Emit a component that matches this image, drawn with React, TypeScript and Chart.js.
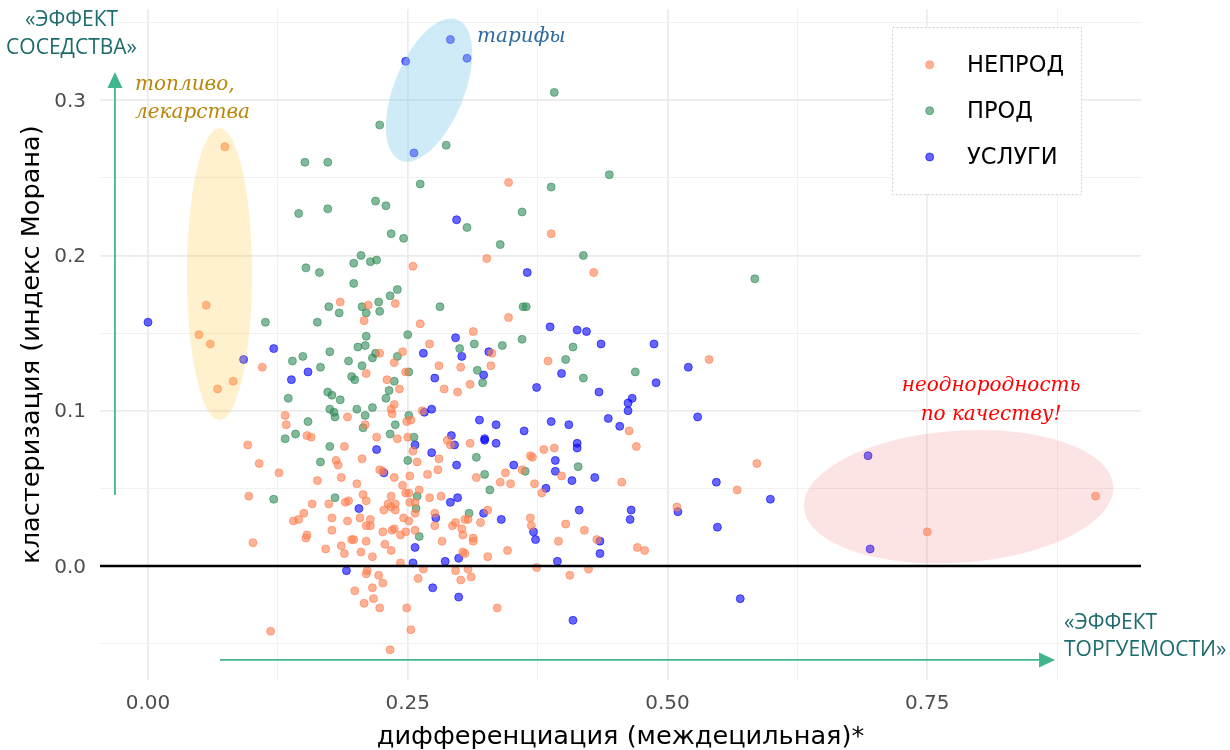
import React, { useEffect, useRef } from "react";
import { Chart, registerables } from "chart.js";

Chart.register(...registerables);

// ---------- DATA ----------
const seriesNames = ["НЕПРОД", "ПРОД", "УСЛУГИ"];

// [дифференциация, кластеризация]
const nonprodPoints: [number, number][] = [
  [0.074, 0.270], [0.056, 0.168], [0.049, 0.149], [0.060, 0.143], [0.082, 0.119], [0.067, 0.114],
  [0.185, 0.170], [0.212, 0.168], [0.238, 0.169], [0.208, 0.158],
  [0.110, 0.128], [0.223, 0.137], [0.245, 0.138], [0.237, 0.131], [0.210, 0.124], [0.230, 0.120],
  [0.242, 0.114], [0.248, 0.125], [0.237, 0.104], [0.234, 0.101], [0.235, 0.098], [0.192, 0.096],
  [0.132, 0.097], [0.133, 0.091], [0.153, 0.084], [0.157, 0.083], [0.209, 0.091], [0.249, 0.093],
  [0.253, 0.094], [0.220, 0.083], [0.240, 0.082], [0.250, 0.083], [0.096, 0.078], [0.189, 0.077],
  [0.107, 0.066], [0.181, 0.068], [0.183, 0.065], [0.206, 0.069], [0.126, 0.060], [0.223, 0.062],
  [0.226, 0.061], [0.237, 0.057], [0.186, 0.057], [0.163, 0.055],
  [0.201, 0.053], [0.245, 0.052], [0.097, 0.045], [0.158, 0.040], [0.174, 0.040], [0.190, 0.041],
  [0.193, 0.042], [0.207, 0.046], [0.210, 0.042], [0.234, 0.045], [0.248, 0.047], [0.251, 0.047],
  [0.231, 0.040], [0.234, 0.038], [0.238, 0.040], [0.227, 0.036], [0.238, 0.036], [0.150, 0.034],
  [0.140, 0.029], [0.145, 0.030], [0.177, 0.031], [0.192, 0.029], [0.204, 0.031], [0.214, 0.030],
  [0.210, 0.026], [0.214, 0.026], [0.246, 0.031], [0.251, 0.029], [0.177, 0.023], [0.153, 0.020],
  [0.152, 0.018], [0.226, 0.022], [0.235, 0.023], [0.237, 0.024], [0.243, 0.020], [0.248, 0.022],
  [0.101, 0.015], [0.196, 0.017], [0.198, 0.017], [0.210, 0.016], [0.228, 0.014], [0.186, 0.013],
  [0.171, 0.011], [0.234, 0.010], [0.189, 0.008], [0.205, 0.009], [0.216, 0.006], [0.243, 0.002],
  [0.211, -0.003], [0.210, -0.005], [0.222, -0.006], [0.226, -0.011], [0.199, -0.016], [0.216, -0.014],
  [0.217, -0.021], [0.208, -0.024], [0.223, -0.027], [0.249, -0.027], [0.118, -0.042], [0.233, -0.054],
  [0.255, 0.193], [0.326, 0.198], [0.429, 0.189], [0.347, 0.160], [0.262, 0.156], [0.313, 0.151],
  [0.271, 0.143], [0.331, 0.137], [0.385, 0.132], [0.280, 0.129], [0.301, 0.128], [0.330, 0.129],
  [0.285, 0.114], [0.298, 0.112], [0.310, 0.117], [0.264, 0.100], [0.463, 0.087],
  [0.347, 0.247], [0.388, 0.214],
  [0.288, 0.081], [0.291, 0.078], [0.310, 0.079], [0.381, 0.075], [0.391, 0.076], [0.470, 0.077],
  [0.255, 0.074], [0.280, 0.069], [0.259, 0.067], [0.368, 0.071], [0.370, 0.070], [0.252, 0.058],
  [0.269, 0.059], [0.279, 0.062], [0.316, 0.057], [0.344, 0.060], [0.360, 0.062], [0.398, 0.058],
  [0.456, 0.054], [0.339, 0.054], [0.349, 0.053], [0.372, 0.053], [0.379, 0.047], [0.261, 0.049],
  [0.271, 0.044], [0.282, 0.045], [0.252, 0.041], [0.257, 0.041], [0.257, 0.034], [0.276, 0.034],
  [0.327, 0.036], [0.305, 0.030], [0.308, 0.030], [0.296, 0.028], [0.293, 0.026], [0.320, 0.028],
  [0.368, 0.031], [0.369, 0.026], [0.509, 0.038], [0.276, 0.026], [0.302, 0.024], [0.303, 0.020],
  [0.257, 0.023], [0.402, 0.027], [0.420, 0.023], [0.395, 0.016], [0.432, 0.017], [0.313, 0.018],
  [0.313, 0.016], [0.283, 0.016], [0.346, 0.010], [0.471, 0.012], [0.478, 0.010], [0.303, 0.009],
  [0.305, 0.008], [0.327, 0.006], [0.265, -0.002], [0.296, -0.003], [0.308, -0.002], [0.374, -0.001],
  [0.424, -0.002], [0.260, -0.008], [0.301, -0.009], [0.311, -0.007], [0.406, -0.006], [0.336, -0.027],
  [0.253, -0.041],
  [0.540, 0.133], [0.586, 0.066], [0.567, 0.049], [0.750, 0.022], [0.912, 0.045],
];

const prodPoints: [number, number][] = [
  [0.151, 0.260], [0.173, 0.260], [0.223, 0.284], [0.145, 0.227], [0.173, 0.230], [0.219, 0.235],
  [0.229, 0.232], [0.234, 0.214], [0.205, 0.200], [0.198, 0.195], [0.214, 0.196], [0.220, 0.197],
  [0.152, 0.192], [0.165, 0.189], [0.198, 0.182], [0.233, 0.174], [0.240, 0.178], [0.174, 0.167],
  [0.184, 0.163], [0.206, 0.167], [0.222, 0.170], [0.210, 0.163], [0.223, 0.164], [0.113, 0.157],
  [0.163, 0.157], [0.210, 0.148], [0.202, 0.141], [0.209, 0.142], [0.175, 0.138],
  [0.139, 0.132], [0.149, 0.135], [0.166, 0.128], [0.135, 0.108], [0.193, 0.132], [0.206, 0.129],
  [0.216, 0.134], [0.219, 0.137], [0.240, 0.135], [0.250, 0.149], [0.196, 0.122], [0.199, 0.120],
  [0.237, 0.119], [0.251, 0.125], [0.173, 0.112], [0.177, 0.110], [0.185, 0.107], [0.232, 0.113],
  [0.229, 0.108], [0.175, 0.101], [0.179, 0.099], [0.180, 0.096], [0.201, 0.101], [0.209, 0.097],
  [0.216, 0.102], [0.154, 0.093], [0.142, 0.085], [0.132, 0.082], [0.207, 0.089], [0.238, 0.091],
  [0.251, 0.097], [0.233, 0.085], [0.175, 0.077], [0.166, 0.067], [0.250, 0.068],
  [0.121, 0.043], [0.180, 0.044],
  [0.391, 0.305], [0.287, 0.271], [0.262, 0.246], [0.388, 0.244], [0.444, 0.252], [0.360, 0.228],
  [0.307, 0.218], [0.246, 0.211],
  [0.339, 0.207], [0.419, 0.200], [0.281, 0.167], [0.361, 0.167], [0.364, 0.167], [0.300, 0.140],
  [0.314, 0.143], [0.341, 0.142], [0.360, 0.146], [0.409, 0.141], [0.402, 0.133], [0.317, 0.126],
  [0.322, 0.118], [0.419, 0.121], [0.469, 0.125], [0.256, 0.083],
  [0.316, 0.070], [0.414, 0.064], [0.324, 0.059], [0.363, 0.061], [0.329, 0.049], [0.259, 0.045],
  [0.258, 0.037], [0.309, 0.034], [0.261, 0.019],
  [0.584, 0.185],
];

const servicesPoints: [number, number][] = [
  [0.000, 0.157], [0.121, 0.140], [0.092, 0.133], [0.138, 0.120], [0.154, 0.125], [0.220, 0.075],
  [0.227, 0.060], [0.203, 0.037], [0.191, -0.003],
  [0.291, 0.339], [0.248, 0.325], [0.307, 0.327], [0.256, 0.266], [0.297, 0.223],
  [0.365, 0.189], [0.296, 0.147], [0.387, 0.154], [0.413, 0.152], [0.422, 0.151], [0.436, 0.143],
  [0.487, 0.143], [0.265, 0.137], [0.302, 0.135], [0.328, 0.138], [0.323, 0.123], [0.276, 0.121],
  [0.374, 0.115], [0.398, 0.124], [0.434, 0.112], [0.489, 0.118], [0.520, 0.128], [0.462, 0.105],
  [0.466, 0.108], [0.462, 0.100], [0.529, 0.096], [0.266, 0.099], [0.273, 0.101], [0.319, 0.094],
  [0.335, 0.091], [0.324, 0.082], [0.292, 0.084], [0.362, 0.087], [0.388, 0.093], [0.405, 0.091],
  [0.443, 0.095], [0.454, 0.090],
  [0.257, 0.078], [0.295, 0.078], [0.324, 0.081], [0.335, 0.079], [0.413, 0.079], [0.413, 0.076],
  [0.273, 0.073], [0.297, 0.065], [0.392, 0.068], [0.352, 0.065], [0.392, 0.061], [0.430, 0.057],
  [0.408, 0.055], [0.383, 0.050], [0.291, 0.041], [0.298, 0.044], [0.277, 0.031], [0.323, 0.034],
  [0.340, 0.030], [0.415, 0.036], [0.465, 0.036], [0.464, 0.030], [0.510, 0.035], [0.371, 0.022],
  [0.373, 0.017], [0.435, 0.016], [0.257, 0.012], [0.435, 0.008], [0.299, 0.005], [0.286, 0.003],
  [0.255, 0.002], [0.394, 0.003], [0.274, -0.014], [0.299, -0.020], [0.409, -0.035],
  [0.547, 0.054], [0.599, 0.043], [0.548, 0.025], [0.693, 0.071], [0.695, 0.011], [0.570, -0.021],
];

const xMajorTicks = [0, 0.25, 0.5, 0.75];
const xTickLabels = ["0.00", "0.25", "0.50", "0.75"];
const xMinorTicks = [0.125, 0.375, 0.625, 0.875];
const yMajorTicks = [0, 0.1, 0.2, 0.3];
const yTickLabels = ["0.0", "0.1", "0.2", "0.3"];
const yMinorTicks = [-0.05, 0.05, 0.15, 0.25, 0.35];

// ---------- STYLE / LAYOUT ----------
const X_MIN = -0.0462;
const X_MAX = 0.9557;
const Y_MIN = -0.0734;
const Y_MAX = 0.3587;

const SERIES_RGB = ["255,127,80", "46,139,87", "0,0,255"];
const POINT_ALPHA = 0.6;
const SANS = '"DejaVu Sans", "Liberation Sans", Arial, sans-serif';
const SERIF_IT = '"DejaVu Serif", "Liberation Serif", serif';
const ARROW_COLOR = "#41B68E";
const NOTE_TEAL = "#1D6B6B";

const ellipses = [
  { cx: 0.0688, cy: 0.188, rx: 0.0313, ry: 0.094, rot: 0, color: "rgba(255,200,60,0.25)" },
  { cx: 0.2705, cy: 0.3065, rx: 0.0337, ry: 0.0489, rot: 22, color: "rgba(135,206,235,0.4)" },
  { cx: 0.7801, cy: 0.0446, rx: 0.1492, ry: 0.0425, rot: -4, color: "rgba(245,120,120,0.2)" },
];

const isMajor = (v: number, list: number[]) => list.some((m) => Math.abs(m - v) < 1e-9);

// draws a string glyph-run by glyph-run, centred at x
function drawCentered(ctx: CanvasRenderingContext2D, text: string, x: number, y: number) {
  const total = ctx.measureText(text).width;
  let cur = x - total / 2;
  const prevAlign = ctx.textAlign;
  ctx.textAlign = "left";
  for (const ch of text) {
    ctx.fillText(ch, cur, y);
    cur += ctx.measureText(ch).width;
  }
  ctx.textAlign = prevAlign;
}

const annotationPlugin = {
  id: "annotations",
  afterDraw(chart: any) {
    const { ctx, chartArea } = chart;
    const xs = chart.scales.x;
    const ys = chart.scales.y;
    const px = (v: number) => xs.getPixelForValue(v);
    const py = (v: number) => ys.getPixelForValue(v);
    ctx.save();

    // zero line
    ctx.strokeStyle = "#000";
    ctx.lineWidth = 2.4;
    ctx.beginPath();
    ctx.moveTo(chartArea.left, py(0));
    ctx.lineTo(chartArea.right, py(0));
    ctx.stroke();

    // ellipses
    for (const e of ellipses) {
      const rxp = Math.abs(px(e.cx + e.rx) - px(e.cx));
      const ryp = Math.abs(py(e.cy + e.ry) - py(e.cy));
      ctx.fillStyle = e.color;
      ctx.beginPath();
      ctx.ellipse(px(e.cx), py(e.cy), rxp, ryp, (e.rot * Math.PI) / 180, 0, Math.PI * 2);
      ctx.fill();
    }

    // arrows
    ctx.strokeStyle = ARROW_COLOR;
    ctx.fillStyle = ARROW_COLOR;
    ctx.lineWidth = 1.8;
    const vx = px(-0.0318);
    const vTip = py(0.3181);
    const vBase = py(0.0457);
    ctx.beginPath();
    ctx.moveTo(vx, vBase);
    ctx.lineTo(vx, vTip + 14);
    ctx.stroke();
    ctx.beginPath();
    ctx.moveTo(vx, vTip);
    ctx.lineTo(vx - 7.5, vTip + 16);
    ctx.lineTo(vx + 7.5, vTip + 16);
    ctx.closePath();
    ctx.fill();
    const hy = py(-0.0605);
    const hTip = px(0.873);
    const hStart = px(0.0693);
    ctx.beginPath();
    ctx.moveTo(hStart, hy);
    ctx.lineTo(hTip - 14, hy);
    ctx.stroke();
    ctx.beginPath();
    ctx.moveTo(hTip, hy);
    ctx.lineTo(hTip - 16, hy - 7.5);
    ctx.lineTo(hTip - 16, hy + 7.5);
    ctx.closePath();
    ctx.fill();

    // teal notes
    ctx.fillStyle = NOTE_TEAL;
    ctx.font = '21px "Open Sans", sans-serif';
    ctx.textBaseline = "middle";
    ctx.textAlign = "center";
    ctx.fillText("«ЭФФЕКТ", px(-0.0736), py(0.3519));
    ctx.fillText("СОСЕДСТВА»", px(-0.0736), py(0.3335));
    ctx.textAlign = "left";
    ctx.fillText("«ЭФФЕКТ", px(0.8816), py(-0.0369));
    ctx.fillText("ТОРГУЕМОСТИ»", px(0.8816), py(-0.0544));

    // italic notes
    ctx.textBaseline = "alphabetic";
    ctx.font = `italic 20px ${SERIF_IT}`;
    ctx.fillStyle = "#B8860B";
    ctx.textAlign = "left";
    ctx.fillText("топливо,", px(-0.0125), py(0.3065));
    ctx.fillText("лекарства", px(-0.0125), py(0.2882));
    ctx.fillStyle = "#2E6A9E";
    ctx.fillText("тарифы", px(0.3167), py(0.3377));
    ctx.fillStyle = "#FF0000";
    ctx.textAlign = "center";
    ctx.fillText("неоднородность", px(0.8114), py(0.1127));
    ctx.fillText("по качеству!", px(0.8114), py(0.094));

    // legend
    const lx0 = px(0.7161), lx1 = px(0.898), ly0 = py(0.3471), ly1 = py(0.2395);
    ctx.fillStyle = "#FFFFFF";
    ctx.fillRect(lx0, ly0, lx1 - lx0, ly1 - ly0);
    ctx.strokeStyle = "#CFCFCF";
    ctx.lineWidth = 1;
    ctx.setLineDash([2, 2]);
    ctx.strokeRect(lx0 + 0.5, ly0 + 0.5, lx1 - lx0, ly1 - ly0);
    ctx.setLineDash([]);
    const rows = [0.3228, 0.2932, 0.2634];
    ctx.font = `22.5px ${SANS}`;
    ctx.textAlign = "left";
    ctx.textBaseline = "middle";
    seriesNames.forEach((name, i) => {
      const cy = py(rows[i]);
      const c = `rgba(${SERIES_RGB[i]},${POINT_ALPHA})`;
      ctx.beginPath();
      ctx.arc(px(0.7523), cy, 4, 0, Math.PI * 2);
      ctx.fillStyle = c;
      ctx.fill();
      ctx.strokeStyle = c;
      ctx.lineWidth = 1;
      ctx.stroke();
      ctx.fillStyle = "#000";
      ctx.fillText(name, px(0.7883), cy + 1);
    });

    // tick labels
    ctx.fillStyle = "#4D4D4D";
    ctx.font = `20px ${SANS}`;
    ctx.textBaseline = "middle";
    ctx.textAlign = "center";
    for (let i = 0; i < xMajorTicks.length; i++) {
      drawCentered(ctx, xTickLabels[i], px(xMajorTicks[i]), chartArea.bottom + 24);
    }
    ctx.textAlign = "right";
    for (let i = 0; i < yMajorTicks.length; i++) {
      ctx.fillText(yTickLabels[i], chartArea.left - 14, py(yMajorTicks[i]) + 1.5);
    }

    ctx.restore();
  },
};

export default function App() {
  const ref = useRef<HTMLCanvasElement>(null);

  useEffect(() => {
    document.body.style.margin = "0";
    const toPts = (arr: [number, number][]) => arr.map(([x, y]) => ({ x, y }));
    const allSeries = [nonprodPoints, prodPoints, servicesPoints];
    const chart = new Chart(ref.current as HTMLCanvasElement, {
      type: "scatter",
      data: {
        datasets: allSeries.map((pts, i) => ({
          label: seriesNames[i],
          data: toPts(pts),
          backgroundColor: `rgba(${SERIES_RGB[i]},${POINT_ALPHA})`,
          borderColor: `rgba(${SERIES_RGB[i]},${POINT_ALPHA})`,
          borderWidth: 1,
          pointRadius: 4,
          pointHoverRadius: 4,
        })),
      },
      options: {
        responsive: false,
        animation: false,
        devicePixelRatio: 1,
        events: [],
        layout: { padding: { left: 0, top: 9, right: 89, bottom: 0 } },
        plugins: { legend: { display: false }, tooltip: { enabled: false } },
        scales: {
          x: {
            type: "linear",
            min: X_MIN,
            max: X_MAX,
            border: { display: false },
            afterBuildTicks: (s: any) => {
              s.ticks = [...xMajorTicks, ...xMinorTicks].sort((a, b) => a - b).map((v) => ({ value: v }));
            },
            afterFit: (s: any) => {
              s.height = 70;
              s.paddingLeft = 0;
              s.paddingRight = 0;
            },
            grid: {
              drawTicks: false,
              color: (c: any) => (c.tick && isMajor(c.tick.value, xMajorTicks) ? "#EBEBEB" : "#F1F1F1"),
              lineWidth: (c: any) => (c.tick && isMajor(c.tick.value, xMajorTicks) ? 1.7 : 1),
            },
            ticks: { display: false, autoSkip: false },
            title: {
              display: true,
              text: "дифференциация (междецильная)*",
              color: "#000",
              font: { family: SANS, size: 25.6, lineHeight: 1 },
              padding: { top: 0, bottom: 0 },
            },
          },
          y: {
            type: "linear",
            min: Y_MIN,
            max: Y_MAX,
            border: { display: false },
            afterBuildTicks: (s: any) => {
              s.ticks = [...yMajorTicks, ...yMinorTicks].sort((a, b) => a - b).map((v) => ({ value: v }));
            },
            afterFit: (s: any) => {
              s.width = 100;
              s.paddingTop = 0;
              s.paddingBottom = 0;
            },
            grid: {
              drawTicks: false,
              color: (c: any) => (c.tick && isMajor(c.tick.value, yMajorTicks) ? "#EBEBEB" : "#F1F1F1"),
              lineWidth: (c: any) => (c.tick && isMajor(c.tick.value, yMajorTicks) ? 1.7 : 1),
            },
            ticks: { display: false, autoSkip: false },
            title: {
              display: true,
              text: "кластеризация (индекс Морана)",
              color: "#000",
              font: { family: SANS, size: 25.6, lineHeight: 1 },
              padding: { top: 20, bottom: 0 },
            },
          },
        },
      },
      plugins: [annotationPlugin],
    } as any);
    return () => chart.destroy();
  }, []);

  return (
    <div style={{ width: 1230, height: 750 }}>
      <canvas ref={ref} width={1230} height={750} style={{ display: "block" }} />
    </div>
  );
}
